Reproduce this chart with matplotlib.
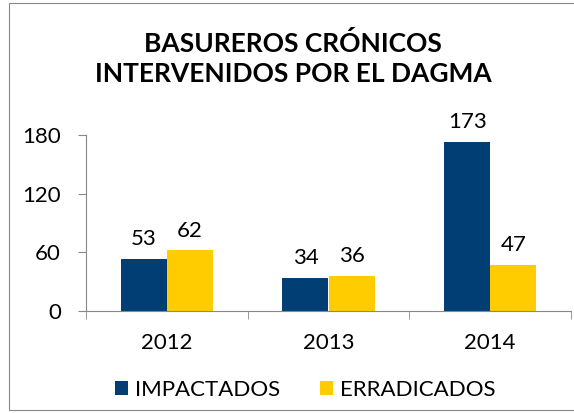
import matplotlib.pyplot as plt
import numpy as np
from matplotlib.patches import Rectangle

years = ['2012', '2013', '2014']
impactados = [53, 34, 173]
erradicados = [62, 36, 47]
yticks = [0, 60, 120, 180]

blue = '#003E74'
yellow = '#FFCC00'
plt.rcParams['font.family'] = ['Lato', 'DejaVu Sans']

fig = plt.figure(figsize=(5.74, 4.13), dpi=100)
fig.patches.append(Rectangle((9 / 574, 3 / 413), 580 / 574, 407 / 413, transform=fig.transFigure,
                             fill=False, edgecolor='#888888', linewidth=0.8))

ax = fig.add_axes([86 / 574, 1 - 311 / 413, 485 / 574, 176 / 413])
x = np.arange(len(years))
w = 0.285
b1 = ax.bar(x - w / 2, impactados, w, color=blue, label='IMPACTADOS')
b2 = ax.bar(x + w / 2, erradicados, w, color=yellow, label='ERRADICADOS')

for bars, vals in [(b1, impactados), (b2, erradicados)]:
    for bar, v in zip(bars, vals):
        ax.annotate(str(v), (bar.get_x() + bar.get_width() / 2, v), xytext=(0, 7),
                    textcoords='offset points', ha='center', va='bottom', fontsize=16)

ax.set_xlim(-0.5, 2.5)
ax.set_ylim(0, 180)
ax.set_yticks(yticks)
ax.tick_params(axis='y', labelsize=16, length=6, color='#888888', pad=12)
ax.set_xticks(x)
ax.set_xticklabels(years)
ax.set_xticks([-0.5, 0.5, 1.5, 2.5], minor=True)
ax.tick_params(axis='x', which='major', length=0, labelsize=16, pad=16)
ax.tick_params(axis='x', which='minor', length=6, color='#888888')
for s in ['top', 'right']:
    ax.spines[s].set_visible(False)
for s in ['left', 'bottom']:
    ax.spines[s].set_color('#888888')

fig.text(293 / 574, 1 - 58 / 413, 'BASUREROS CRÓNICOS\nINTERVENIDOS POR EL DAGMA', ha='center', va='center',
         fontsize=19, fontweight='bold', linespacing=1.3)

fig.legend(handles=[b1, b2], loc='center', bbox_to_anchor=(305 / 574, 1 - 390 / 413), ncol=2,
           frameon=False, fontsize=16, handlelength=0.6, handleheight=0.6, columnspacing=1.8,
           handletextpad=0.3)

fig.savefig('out.png', dpi=100)
